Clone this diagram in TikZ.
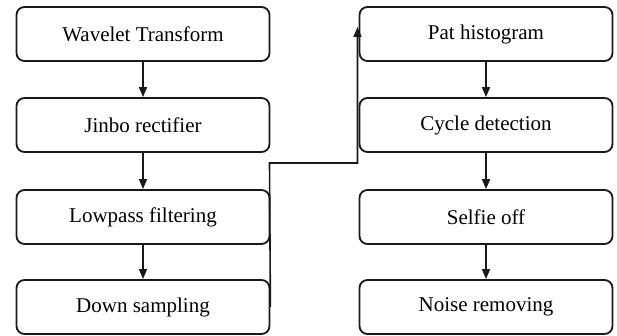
\documentclass[tikz,border=0pt]{standalone}
\usepackage{fontspec}
\setmainfont{Liberation Serif}
\usetikzlibrary{arrows.meta}
\begin{document}
\begin{tikzpicture}[x=1pt,y=-1pt,
  box/.style={draw=black!90, line width=1.8pt, rounded corners=8pt, minimum width=253pt, minimum height=54pt, inner sep=0pt, font=\fontsize{21}{25}\selectfont, fill=white},
  arr/.style={draw=black!90, line width=1.6pt, -{Triangle[length=10pt,width=8pt]}}]
\useasboundingbox (0,0) rectangle (617,336);
\node[box] (wt) at (143,34) {Wavelet Transform};
\node[box] (jr) at (143,125) {Jinbo rectifier};
\node[box] (lf) at (143,217) {Lowpass filtering};
\node[box] (ds) at (143,307) {Down sampling};
\node[box] (ph) at (486,34) {Pat histogram};
\node[box] (cd) at (486,125) {Cycle detection};
\node[box] (so) at (486,217) {Selfie off};
\node[box] (nr) at (486,307) {Noise removing};
\draw[arr] (wt) -- (jr);
\draw[arr] (jr) -- (lf);
\draw[arr] (lf) -- (ds);
\draw[arr] (ph) -- (cd);
\draw[arr] (cd) -- (so);
\draw[arr] (so) -- (nr);
\coordinate (m1) at (269.5,163);
\coordinate (m2) at (357.5,163);
\coordinate (t) at (357.5,27);
\draw[arr] (ds.east) -- (m1) -- (m2) -- (t);
\end{tikzpicture}
\end{document}
